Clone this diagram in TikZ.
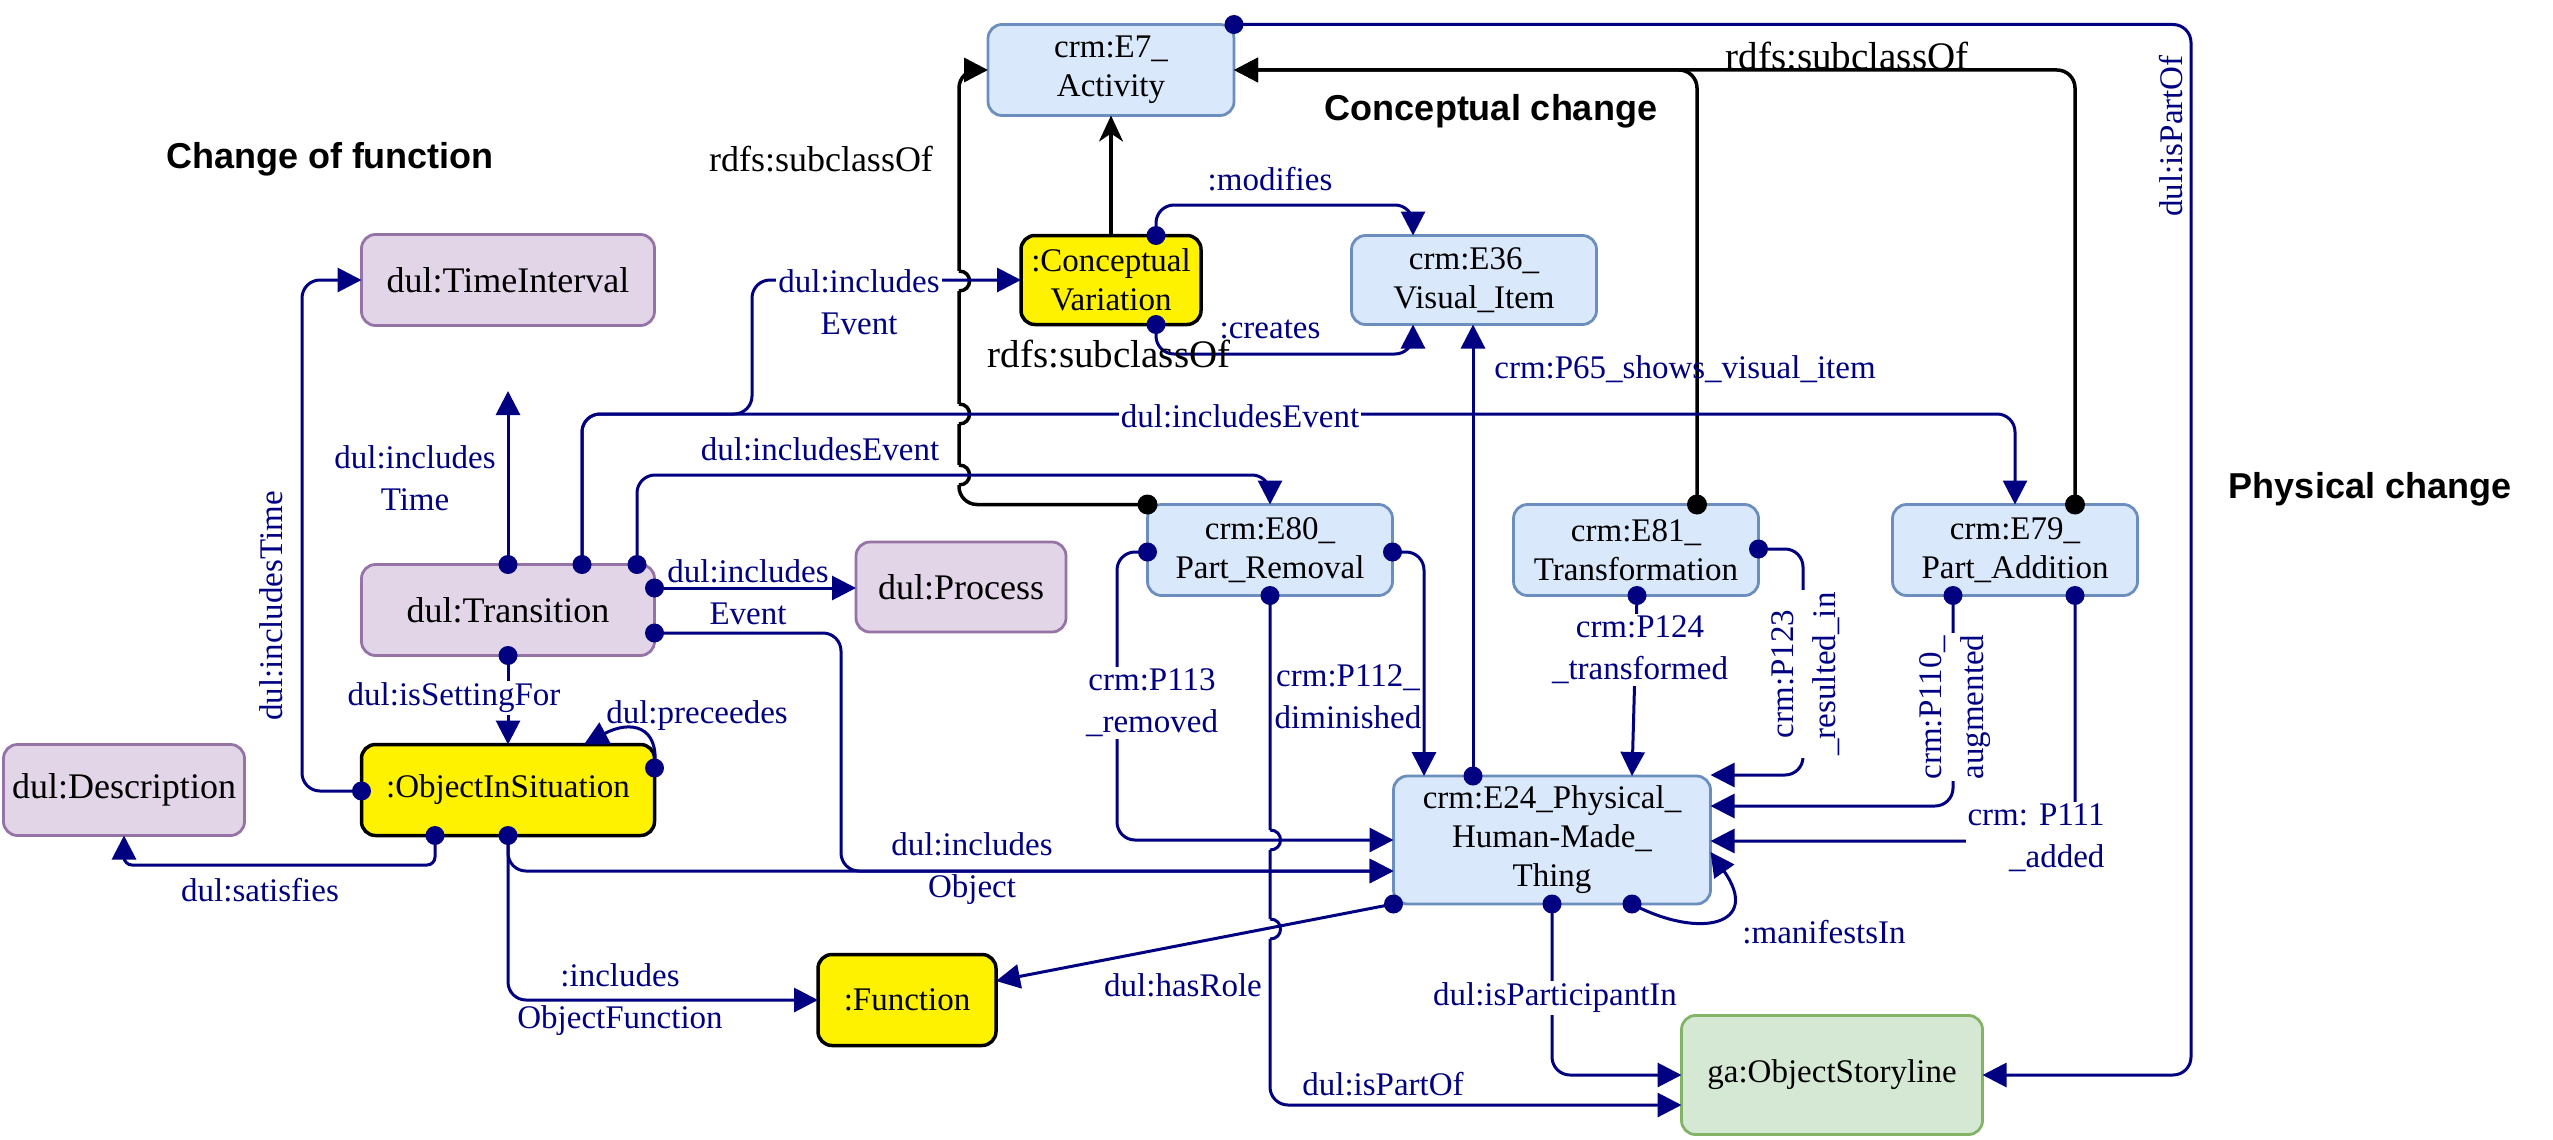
\documentclass[tikz,border=0pt]{standalone}
\usepackage{fontspec}
\setmainfont{Liberation Serif}
\setsansfont{Liberation Sans}
\usetikzlibrary{arrows.meta}
\definecolor{navy}{RGB}{0,0,128}
\definecolor{pfill}{HTML}{E1D5E7}
\definecolor{pdraw}{HTML}{9673A6}
\definecolor{bfill}{HTML}{DAE8FC}
\definecolor{bdraw}{HTML}{6C8EBF}
\definecolor{gfill}{HTML}{D5E8D4}
\definecolor{gdraw}{HTML}{82B366}
\begin{document}
\begin{tikzpicture}[x=1pt,y=-1pt,
  base/.style={rounded corners=14pt, line width=2.8pt, align=center, inner sep=3pt, outer sep=0pt, text=black},
  pnode/.style={base, fill=pfill, draw=pdraw, font=\fontsize{36}{39}\selectfont},
  bnode/.style={base, fill=bfill, draw=bdraw, font=\fontsize{33}{39}\selectfont},
  ynode/.style={base, fill=yellow, draw=black, line width=3.5pt, font=\fontsize{33}{39}\selectfont},
  gnode/.style={base, fill=gfill, draw=gdraw, font=\fontsize{33}{39}\selectfont},
  rel/.style={draw=navy, line width=3pt, rounded corners=18pt, -{Triangle[length=24pt,width=24pt]}},
  sub/.style={draw=black, line width=3.5pt, rounded corners=18pt, -{Triangle[length=24pt,width=24pt]}},
  lab/.style={text=navy, font=\fontsize{33}{42}\selectfont, align=center, inner sep=2pt},
  labw/.style={lab, fill=white},
  blk/.style={text=black, font=\fontsize{39}{42}\selectfont, inner sep=0pt},
  ttl/.style={text=black, font=\sffamily\bfseries\fontsize{36}{40}\selectfont, inner sep=0pt},
]
\fill[white] (0,0) rectangle (2553,1140);
\useasboundingbox (0,0) rectangle (2553,1140);

% titles
\node[ttl] (t1) at (330,159) {Change of function};
\node[ttl] (t2) at (1491,111) {Conceptual change};
\node[ttl] (t3) at (2370,489) {Physical change};

% nodes
\node[pnode, minimum width=293pt, minimum height=91pt] (timeint) at (508,280) {dul:TimeInterval};
\node[pnode, minimum width=293pt, minimum height=91pt] (trans) at (508,610) {dul:Transition};
\node[pnode, minimum width=210pt, minimum height=90pt] (proc) at (961,587) {dul:Process};
\node[pnode, minimum width=241pt, minimum height=91pt] (desc) at (124,790) {dul:Description};
\node[ynode, minimum width=293pt, minimum height=91pt] (ois) at (508,790) {:ObjectInSituation};
\node[ynode, minimum width=178pt, minimum height=91pt] (func) at (907,1000) {:Function};
\node[ynode, minimum width=180pt, minimum height=89pt] (cv) at (1111,280) {:Conceptual\\Variation};
\node[bnode, minimum width=246pt, minimum height=91pt] (e7) at (1111,70) {crm:E7\_\\Activity};
\node[bnode, minimum width=245pt, minimum height=89pt] (e36) at (1474,280) {crm:E36\_\\Visual\_Item};
\node[bnode, minimum width=245pt, minimum height=91pt] (e80) at (1270,550) {crm:E80\_\\Part\_Removal};
\node[bnode, minimum width=245pt, minimum height=91pt] (e81) at (1636,550) {crm:E81\_\\Transformation};
\node[bnode, minimum width=245pt, minimum height=91pt] (e79) at (2015,550) {crm:E79\_\\Part\_Addition};
\node[bnode, minimum width=317pt, minimum height=128pt] (e24) at (1552,840) {crm:E24\_Physical\_\\Human-Made\_\\Thing};
\node[gnode, minimum width=301pt, minimum height=119pt] (story) at (1832,1075) {ga:ObjectStoryline};

% connector end points (dots)
\coordinate (dA) at (trans.north);
\coordinate (dB) at (582,0 |- trans.north);
\coordinate (dC) at (637,0 |- trans.north);
\coordinate (dD) at (trans.east |- 0,588);
\coordinate (dE) at (trans.east |- 0,633);
\coordinate (dF) at (trans.south);
\coordinate (dG) at (ois.east |- 0,768);
\coordinate (dH) at (ois.west |- 0,791);
\coordinate (dI) at (435,0 |- ois.south);
\coordinate (dJ) at (ois.south);
\coordinate (dK) at (1156,0 |- cv.north);
\coordinate (dL) at (1156,0 |- cv.south);
\coordinate (dM) at (1473,0 |- e24.north);
\coordinate (dN) at (e80.west |- 0,552);
\coordinate (dO) at (e80.east |- 0,552);
\coordinate (dP) at (e80.south);
\coordinate (dQ) at (1637,0 |- e81.south);
\coordinate (dR) at (e81.east |- 0,549);
\coordinate (dS) at (1953,0 |- e79.south);
\coordinate (dT) at (2075,0 |- e79.south);
\coordinate (dU) at (1632,0 |- e24.south);
\coordinate (dV) at (e24.south);
\coordinate (dW) at (e24.south west);
\coordinate (dX) at (e7.north east);
\coordinate (kA) at (e80.north west);
\coordinate (kB) at (1697,0 |- e81.north);
\coordinate (kC) at (2075,0 |- e79.north);
\coordinate (tinc) at (508,391);
\coordinate (pe) at (ois.north -| 584,0);
\coordinate (me) at (e24.east |- 0,852);

% black subclass connectors
\draw[sub] (kA) -- (959,0 |- kA) |- (e7.west);
\draw[sub] (kB) |- (e7.east);
\draw[sub] (kC) |- (e7.east);
\draw[draw=black, line width=3.5pt, -{Stealth[length=26pt,width=24pt,inset=8pt]}] (cv.north) -- (e7.south);
\foreach \yy in {281,414,475} {
  \draw[white, line width=6pt] (959,\yy-10) -- (959,\yy+10);
  \draw[black, line width=3.5pt] (959,\yy+10) .. controls (973,\yy+10) and (973,\yy-10) .. (959,\yy-10);
}

% blue connectors
\draw[rel] (dP) |- (story.west |- 0,1105);
\foreach \yy in {840,929} {
  \draw[white, line width=6pt] (1270,\yy-10) -- (1270,\yy+10);
  \draw[navy, line width=3pt] (1270,\yy-10) .. controls (1284,\yy-10) and (1284,\yy+10) .. (1270,\yy+10);
}
\draw[rel] (dA) -- (tinc);
\draw[rel] (dB) -- (582,414) -| (e79.north);
\draw[rel] (dB) -- (582,414) -- (752,414) |- (cv.west);
\draw[rel] (dC) -- (637,475) -| (e80.north);
\draw[rel] (dD) -- (proc.west |- dD);
\draw[rel] (dE) -- (841,0 |- dE) -- (841,871) -- (e24.west |- 0,871);
\draw[rel] (dJ) |- (e24.west |- 0,871);
\draw[rel] (dJ) |- (func.west);
\draw[rel, rounded corners=8pt] (dI) -- (435,865) -| (desc.south);
\draw[rel] (dH) -- (302,0 |- dH) |- (timeint.west);
\draw[rel] (dF) -- (ois.north);
\draw[rel] (dG) .. controls (660,725) and (630,720) .. (pe);
\draw[rel] (dK) -- (1156,205) -| (1413,0 |- e36.north);
\draw[rel] (dL) -- (1156,354) -| (1413,0 |- e36.south);
\draw[rel] (dM) -- (dM |- e36.south);
\draw[rel] (dN) -- (1117,0 |- dN) |- (e24.west |- 0,840);
\draw[rel] (dO) -- (1424,0 |- dO) -- (1424,0 |- e24.north);
\draw[rel] (dQ) -- (1632,0 |- e24.north);
\draw[rel] (dR) -- (1803,0 |- dR) |- (e24.east |- 0,775);
\draw[rel] (dS) |- (e24.east |- 0,806);
\draw[rel] (dT) |- (e24.east |- 0,841);
\draw[rel] (dU) .. controls (1700,940) and (1762,925) .. (me);
\draw[rel] (dV) |- (story.west);
\draw[rel] (dW) -- (func.east |- 0,981);
\draw[rel] (dX) -- (2191,0 |- dX) |- (story.east);

% dots
\foreach \c in {dA,dB,dC,dD,dE,dF,dG,dH,dI,dJ,dK,dL,dM,dN,dO,dP,dQ,dR,dS,dT,dU,dV,dW,dX}
  \fill[navy] (\c) circle[radius=9.5pt];
\foreach \c in {kA,kB,kC}
  \fill[black] (\c) circle[radius=10pt];

% labels
\node[lab] (l1) at (415,478) {dul:includes\\Time};
\node[labw] (l2) at (1240,416) {dul:includesEvent};
\node[labw] (l3) at (859,302) {dul:includes\\Event};
\node[lab] (l4) at (820,449) {dul:includesEvent};
\node[lab] (l5) at (748,592) {dul:includes\\Event};
\node[lab] (l6) at (972,869) {dul:includes\\Object};
\node[lab] (l7) at (620,1000) {:includes\\ObjectFunction};
\node[lab] (l8) at (260,890) {dul:satisfies};
\node[lab, rotate=90] (l9) at (271,606) {dul:includesTime};
\node[labw] (l10) at (454,698) {dul:isSettingFor};
\node[lab] (l11) at (697,716) {dul:preceedes};
\node[lab] (l12) at (1270,179) {:modifies};
\node[lab] (l13) at (1270,329) {:creates};
\node[lab] (l14) at (1685,369) {crm:P65\_shows\_visual\_item};
\node[labw] (l15) at (1152,703) {crm:P113\\\_removed};
\node[lab] (l16) at (1348,697) {crm:P112\_\\diminished};
\node[lab] (l17) at (1383,1084) {dul:isPartOf};
\node[labw] (l18) at (1640,650) {crm:P124\\\_transformed};
\node[labw, rotate=90] (l19) at (1806,674) {crm:P123\\\_resulted\_in};
\node[labw, rotate=90, align=left] (l20) at (1955,707) {crm:P110\_\\augmented};
\node[labw, align=right] (l21) at (2036,838) {crm: P111\\\_added};
\node[lab] (l22) at (1824,932) {:manifestsIn};
\node[labw] (l23) at (1555,998) {dul:isParticipantIn};
\node[lab] (l24) at (1183,985) {dul:hasRole};
\node[lab, rotate=90] (l25) at (2171,136) {dul:isPartOf};

\node[blk, font=\fontsize{36}{40}\selectfont] (r1) at (821,159) {rdfs:subclassOf};
\node[blk] (r2) at (1109,354) {rdfs:subclassOf};
\node[blk] (r3) at (1847,56) {rdfs:subclassOf};
\end{tikzpicture}
\end{document}
